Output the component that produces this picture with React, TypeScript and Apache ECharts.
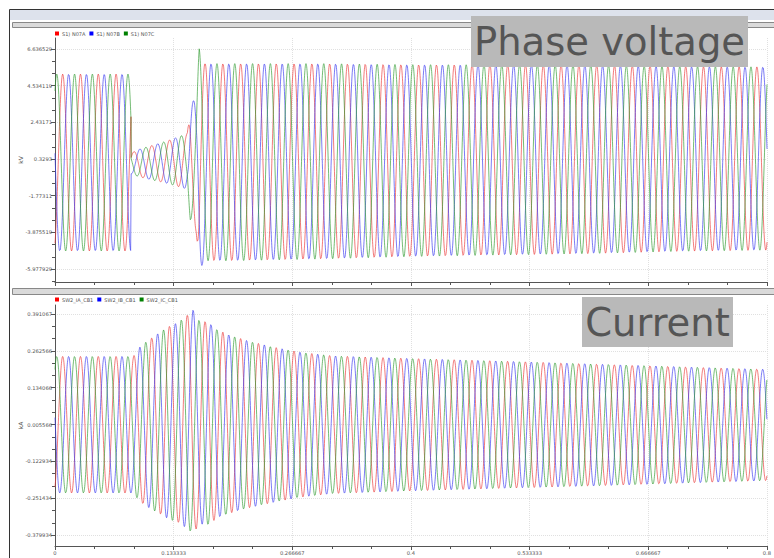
import React, { useEffect, useRef } from "react";
import * as echarts from "echarts";

// ---- legend / series names ----
const voltNames = ["S1) N07A", "S1) N07B", "S1) N07C"];
const currNames = ["SW2_IA_CB1", "SW2_IB_CB1", "SW2_IC_CB1"];
const lineColors = ["rgba(236,60,60,0.8)", "rgba(60,60,240,0.8)", "rgba(50,155,50,0.8)"];
const legendColors = ["#ff0000", "#0000ff", "#008000"];

// ---- signal parameters ----
const freqHz = 50; // ~40 cycles over 0.8 s
const phaseDeg = [-66, 174, 54]; // A, B, C phase angles at t = 0

// ---- axis ticks ----
const xTicks = [0, 0.133333, 0.266667, 0.4, 0.533333, 0.666667, 0.8];
const voltTicks = [-5.977929, -3.875519, -1.77311, 0.3293, 2.43171, 4.534119, 6.636529];
const currTicks = [-0.379934, -0.251434, -0.122934, 0.005566, 0.134066, 0.262566, 0.391067];
const voltRange = [-6.72, 7.27];
const currRange = [-0.418, 0.4225];

// ---- phase-voltage envelope (kV peak) ----
const voltT = [0, 0.0854, 0.0856, 0.095, 0.11, 0.125, 0.14, 0.1487, 0.152, 0.1553, 0.1587, 0.162, 0.1653, 0.1687, 0.2, 0.3, 0.4, 0.5, 0.6, 0.7, 0.8];
const voltAmp = [5.07, 5.07, 0.6, 0.8, 1.0, 1.2, 1.45, 1.6, 3.3, 3.5, 4.0, 6.5, 5.9, 5.65, 5.65, 5.6, 5.5, 5.45, 5.4, 5.3, 5.25];
const voltCtr = [0.13, 0.13, 0.08, 0.1, 0.12, 0.15, 0.18, 0.2, 0.15, 0.15, 0.15, 0.15, 0.15, 0.15, 0.15, 0.2, 0.24, 0.28, 0.31, 0.34, 0.36];

// ---- current envelope (kA peak) ----
const currT = [0, 0.088, 0.0955, 0.1034, 0.109, 0.1146, 0.1213, 0.129, 0.136, 0.1427, 0.1483, 0.155, 0.163, 0.171, 0.183, 0.197, 0.216, 0.245, 0.275, 0.312, 0.388, 0.5, 0.612, 0.725, 0.8];
const currAmp = [0.238, 0.238, 0.27, 0.288, 0.3, 0.31, 0.323, 0.338, 0.345, 0.358, 0.372, 0.39, 0.352, 0.356, 0.327, 0.31, 0.292, 0.271, 0.253, 0.24, 0.232, 0.222, 0.212, 0.201, 0.194];
const currCtr = [0.005, 0.005, 0.006, 0.008, 0.009, 0.01, 0.011, 0.012, 0.013, 0.014, 0.015, 0.016, 0.012, 0.01, 0.008, 0.007, 0.006, 0.005, 0.005, 0.005, 0.005, 0.005, 0.004, 0.004, 0.004];

const STEP = 0.0002;

function envAt(T: number[], V: number[], t: number): number {
  if (t <= T[0]) return V[0];
  for (let k = 1; k < T.length; k++) {
    if (t <= T[k]) {
      const f = (t - T[k - 1]) / (T[k] - T[k - 1]);
      return V[k - 1] + f * (V[k] - V[k - 1]);
    }
  }
  return V[V.length - 1];
}

function waveform(T: number[], A: number[], C: number[], ph: number): number[][] {
  const pts: number[][] = [];
  const n = Math.round(0.8 / STEP);
  for (let i = 0; i <= n; i++) {
    const t = i * STEP;
    const v = envAt(T, C, t) + envAt(T, A, t) * Math.sin(2 * Math.PI * freqHz * t + (ph * Math.PI) / 180);
    pts.push([t, v]);
  }
  return pts;
}

function minorValues(ticks: number[], lo: number, hi: number): number[] {
  const out: number[] = [];
  const step = (ticks[1] - ticks[0]) / 3;
  for (let k = -1; k < ticks.length; k++) {
    const base = k < 0 ? ticks[0] - 3 * step : ticks[k];
    for (let j = 1; j <= 2; j++) {
      const v = base + j * step;
      if (v > lo && v < hi && !ticks.some((tk) => Math.abs(tk - v) < 1e-9)) out.push(v);
    }
  }
  return out;
}

const fmt = (v: number) => String(+Number(v).toFixed(6));
const FONT = "DejaVu Sans";
const AXIS_COLOR = "#555";
const LABEL_COLOR = "#555";
const GRID_COLOR = "#e0e0e0";

export default function App() {
  const ref = useRef<HTMLDivElement>(null);
  useEffect(() => {
    if (!ref.current) return;
    const chart = echarts.init(ref.current, undefined, { renderer: "svg" });

    const xAxisBase = (grid: number, showLabel: boolean) => ({
      type: "value",
      gridIndex: grid,
      min: xTicks[0],
      max: xTicks[xTicks.length - 1],
      interval: (xTicks[xTicks.length - 1] - xTicks[0]) / (xTicks.length - 1),
      axisLine: { onZero: false, lineStyle: { color: AXIS_COLOR, width: 1 } },
      axisTick: { length: 4, lineStyle: { color: AXIS_COLOR } },
      minorTick: { show: true, splitNumber: 3, length: 3, lineStyle: { color: AXIS_COLOR } },
      axisLabel: { show: showLabel, fontSize: 5.2, color: LABEL_COLOR, fontFamily: FONT, margin: 4, formatter: fmt },
      splitLine: { show: true, lineStyle: { color: GRID_COLOR, type: "dotted", width: 1 } },
    });

    const yMain = (grid: number, ticks: number[], range: number[], name: string) => ({
      type: "value",
      gridIndex: grid,
      position: "left",
      min: range[0],
      max: range[1],
      name,
      nameLocation: "middle",
      nameGap: 32,
      nameMoveOverlap: false,
      nameTextStyle: { fontSize: 6, color: LABEL_COLOR, fontFamily: FONT },
      axisLine: { show: true, onZero: false, lineStyle: { color: AXIS_COLOR, width: 1 } },
      axisTick: { show: true, length: 4, customValues: ticks, lineStyle: { color: AXIS_COLOR } },
      axisLabel: { show: true, customValues: ticks, fontSize: 5.2, color: LABEL_COLOR, fontFamily: FONT, margin: 3, formatter: fmt },
      splitLine: { show: true, lineStyle: { color: GRID_COLOR, type: "dotted", width: 1 } },
    });

    const yMinor = (grid: number, ticks: number[], range: number[]) => ({
      type: "value",
      gridIndex: grid,
      position: "left",
      min: range[0],
      max: range[1],
      axisLine: { show: false, onZero: false },
      axisTick: { show: true, length: 3, customValues: minorValues(ticks, range[0], range[1]), lineStyle: { color: AXIS_COLOR } },
      axisLabel: { show: false },
      splitLine: { show: false },
    });

    const series: any[] = [];
    for (let p = 0; p < 3; p++) {
      series.push({
        type: "line",
        name: voltNames[p],
        xAxisIndex: 0,
        yAxisIndex: 0,
        data: waveform(voltT, voltAmp, voltCtr, phaseDeg[p]),
        showSymbol: false,
        symbol: "none",
        silent: true,
        color: legendColors[p],
        lineStyle: { color: lineColors[p], width: 0.85 },
      });
    }
    for (let p = 0; p < 3; p++) {
      series.push({
        type: "line",
        name: currNames[p],
        xAxisIndex: 1,
        yAxisIndex: 2,
        data: waveform(currT, currAmp, currCtr, phaseDeg[p]),
        showSymbol: false,
        symbol: "none",
        silent: true,
        color: legendColors[p],
        lineStyle: { color: lineColors[p], width: 0.85 },
      });
    }

    const legendBase = (names: string[], top: number) => ({
      data: names.map((n, i) => ({ name: n, itemStyle: { color: legendColors[i] } })),
      left: 55,
      top,
      padding: 0,
      icon: "rect",
      itemWidth: 4,
      itemHeight: 4,
      itemGap: 4,
      selectedMode: false,
      textStyle: { fontSize: 5, color: LABEL_COLOR, fontFamily: FONT, padding: [0, 0, 0, -2] },
    });

    chart.setOption({
      animation: false,
      backgroundColor: "#ffffff",
      grid: [
        { left: 55, top: 38, width: 712, height: 244 },
        { left: 55, top: 305, width: 712, height: 241 },
      ],
      legend: [legendBase(voltNames, 31), legendBase(currNames, 297)],
      xAxis: [xAxisBase(0, false), xAxisBase(1, true)],
      yAxis: [
        yMain(0, voltTicks, voltRange, "kV"),
        yMinor(0, voltTicks, voltRange),
        yMain(1, currTicks, currRange, "kA"),
        yMinor(1, currTicks, currRange),
      ],
      series,
      graphic: [
        { type: "rect", z: 50, silent: true, shape: { x: 10, y: 10, width: 764, height: 10 }, style: { fill: "#dde2ec" } },
        { type: "rect", z: 50, silent: true, shape: { x: 9.5, y: 9.5, width: 800, height: 600 }, style: { fill: "none", stroke: "#333", lineWidth: 1 } },
        { type: "rect", z: 50, silent: true, shape: { x: 12.5, y: 22.5, width: 770, height: 5 }, style: { fill: "#dadada", stroke: "#888", lineWidth: 1 } },
        { type: "rect", z: 50, silent: true, shape: { x: 12.5, y: 288.5, width: 770, height: 6 }, style: { fill: "#dadada", stroke: "#888", lineWidth: 1 } },
        { type: "rect", z: 100, silent: true, shape: { x: 471, y: 16, width: 277, height: 51 }, style: { fill: "#b9b9b9" } },
        { type: "text", z: 101, silent: true, x: 609.5, y: 41.5, style: { text: "Phase voltage", fontSize: 38.5, fontFamily: FONT, fill: "#555", align: "center", verticalAlign: "middle" } },
        { type: "rect", z: 100, silent: true, shape: { x: 582, y: 297, width: 151, height: 50 }, style: { fill: "#b9b9b9" } },
        { type: "text", z: 101, silent: true, x: 657.5, y: 322, style: { text: "Current", fontSize: 38.5, fontFamily: FONT, fill: "#555", align: "center", verticalAlign: "middle" } },
      ],
    });
    return () => chart.dispose();
  }, []);
  return <div ref={ref} style={{ position: "fixed", left: 0, top: 0, width: 774, height: 558, background: "#fff" }} />;
}
